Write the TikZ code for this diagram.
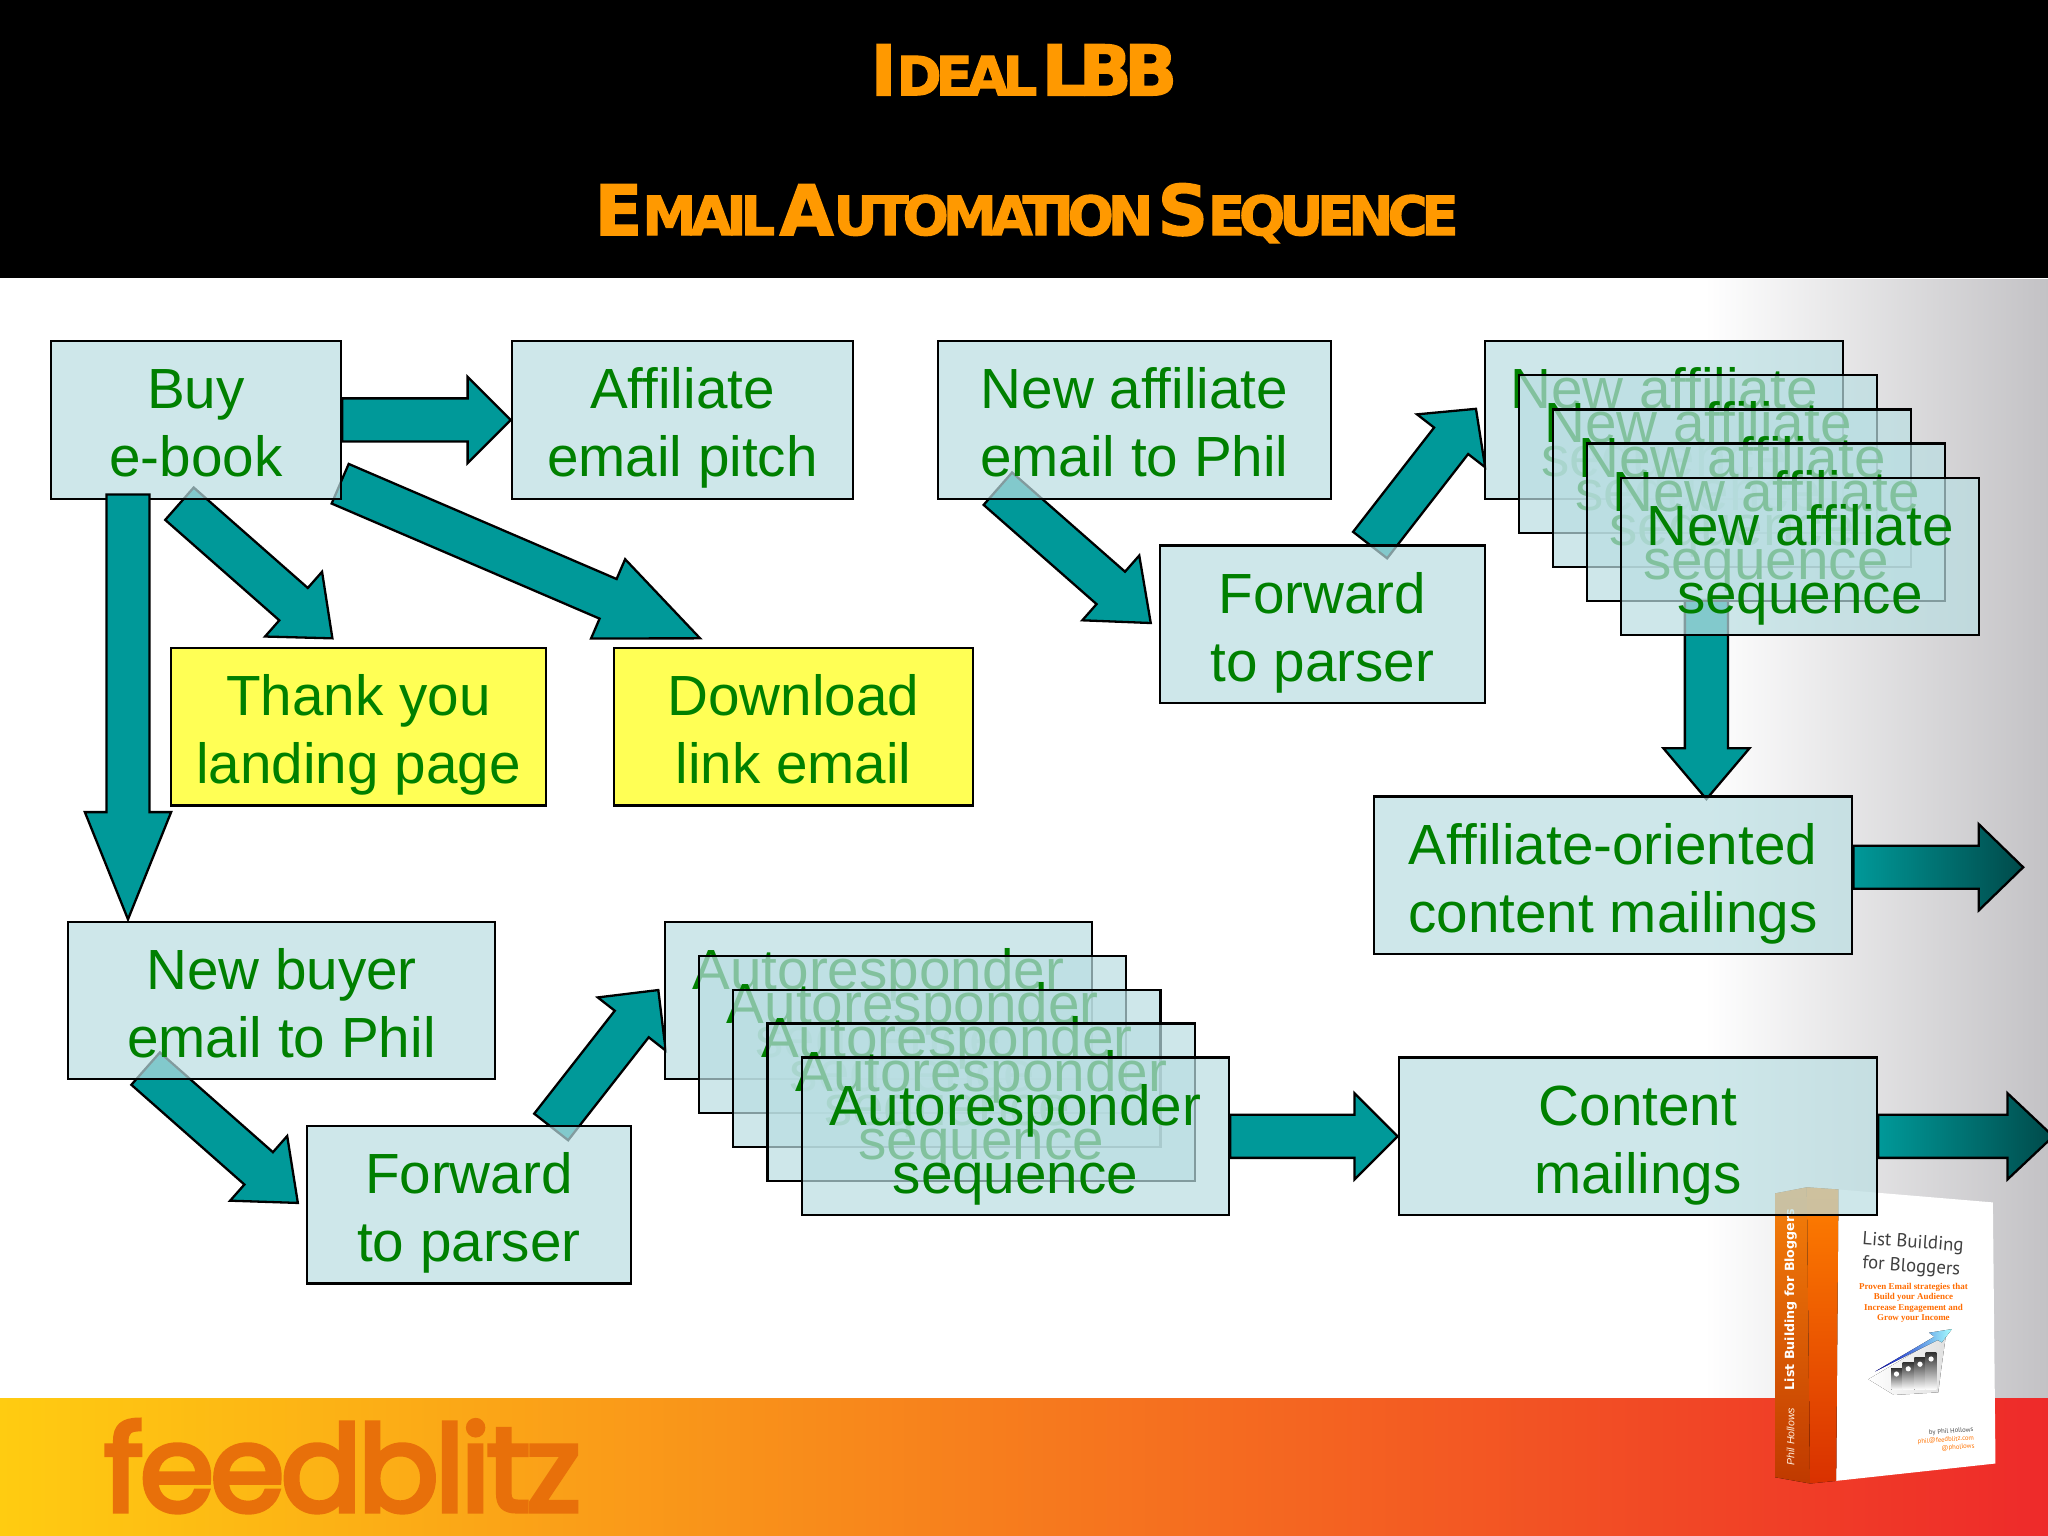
\documentclass[tikz,border=0pt]{standalone}
\usepackage{fontspec}
\setmainfont{Liberation Sans}
\newfontfamily\titlefont[LetterSpace=-11,WordSpace=.35,BoldFeatures={FakeBold=2}]{DejaVu Sans}
\newfontfamily\logofont[LetterSpace=-3,FakeBold=4]{Poppins}
\newfontfamily\bookfont{PT Sans}
\newfontfamily\slabfont{Liberation Serif}
\usetikzlibrary{calc,backgrounds}

\definecolor{arrowteal}{HTML}{009999}
\definecolor{arrowdark}{HTML}{004A4A}
\definecolor{boxfill}{HTML}{BADEE2}
\definecolor{paleyellow}{HTML}{FFFF55}
\definecolor{textgreen}{HTML}{008000}
\definecolor{titleorange}{HTML}{FF9900}
\definecolor{edgegray}{HTML}{C3C2C5}
\definecolor{footyellow}{HTML}{FFCC11}
\definecolor{footorange}{HTML}{F7931E}
\definecolor{footred}{HTML}{EE2A2A}
\definecolor{logoorange}{HTML}{E8700A}

\newcommand{\blockarrow}[4][]{
	\coordinate (arrowtail) at (#2);
	\coordinate (arrowtip) at (#3);
	\coordinate (arrowneck) at ($(arrowtip)!#4!(arrowtail)$);
	\draw[blockline,#1] ($(arrowtail)!.165cm!90:(arrowtip)$) -- ($(arrowneck)!.165cm!90:(arrowtip)$) -- ($(arrowneck)!.33cm!90:(arrowtip)$) -- (arrowtip) -- ($(arrowneck)!.33cm!-90:(arrowtip)$) -- ($(arrowneck)!.165cm!-90:(arrowtip)$) -- ($(arrowtail)!.165cm!-90:(arrowtip)$) -- cycle;
}
\newcommand{\twolines}[2]{\rule{0pt}{14.2pt}#1\\#2\rule[-4.2pt]{0pt}{4.2pt}}
\newcommand{\capbig}{\fontsize{15.2pt}{16pt}\selectfont}
\newcommand{\capsmall}{\fontsize{11.8pt}{16pt}\selectfont}

\begin{document}
\begin{tikzpicture}[
	x=.01cm,
	y=-.01cm,
	box/.style={
		draw=black,
		line width=.5pt,
		fill=boxfill,
		fill opacity=.7,
		text opacity=1,
		text=textgreen,
		font=\fontsize{12.33pt}{14.8pt}\selectfont,
		align=center,
		inner sep=0pt,
		minimum height=1.205cm},
	yellowbox/.style={box,fill=paleyellow,fill opacity=1},
	blockline/.style={draw=black,line width=.5pt,fill=arrowteal,line join=miter},
	fadeout/.style={left color=arrowteal,right color=arrowdark},
	chartbar/.style={top color=black!80,bottom color=white},
	titletext/.style={anchor=base,text=titleorange,font=\titlefont\bfseries},
	spinetext/.style={rotate=90,text=white,inner sep=0pt},
	covertext/.style={inner sep=0pt,align=center}
	]
	\useasboundingbox (0,0) rectangle (1568,1176);
	\begin{scope}[on background layer]
		\fill[white] (0,0) rectangle (1568,1176);
		\fill[left color=white,right color=edgegray] (1305,214) rectangle (1568,1071);
		\fill[black] (0,0) rectangle (1568,213);
		\fill[left color=footyellow,middle color=footorange,right color=footred] (0,1071) rectangle (1568,1176);
	\end{scope}

	\node[titletext] (titleone) at (784,73) {\capbig I\capsmall DEAL \capbig LBB};
	\node[titletext] (titletwo) at (786,180) {\capbig E\capsmall MAIL \capbig A\capsmall UTOMATION \capbig S\capsmall EQUENCE};

	\node[anchor=base west,inner sep=0pt,text=logoorange,font=\fontsize{26pt}{26pt}\logofont] (logo) at (79,1157) {feedblitz};

	\node[box,minimum width=2.22cm] (buy) at (150,321.5) {\twolines{Buy}{e-book}};
	\node[box,minimum width=2.61cm] (pitch) at (522.5,321.5) {\twolines{Affiliate}{email pitch}};
	\node[box,minimum width=3.01cm] (newaff) at (868.5,321.5) {\twolines{New affiliate}{email to Phil}};
	\node[box,minimum width=2.49cm] (fwdone) at (1012.5,478) {\twolines{Forward}{to parser}};

	\node[box,minimum width=2.74cm] (seqa) at (1274,321.5) {\twolines{New affiliate}{sequence}};
	\node[box,minimum width=2.74cm] (seqb) at (1300,347.6) {\twolines{New affiliate}{sequence}};
	\node[box,minimum width=2.74cm] (seqc) at (1326,373.7) {\twolines{New affiliate}{sequence}};
	\node[box,minimum width=2.74cm] (seqd) at (1352,399.8) {\twolines{New affiliate}{sequence}};
	\node[box,minimum width=2.74cm] (seqe) at (1378,426) {\twolines{New affiliate}{sequence}};

	\node[yellowbox,minimum width=2.87cm] (thank) at (274.5,556.5) {\twolines{Thank you}{landing page}};
	\node[yellowbox,minimum width=2.75cm] (download) at (607.5,556.5) {\twolines{Download}{link email}};
	\node[box,minimum width=3.66cm] (affmail) at (1235,670) {\twolines{Affiliate-oriented}{content mailings}};

	\node[box,minimum width=3.27cm] (newbuyer) at (215.5,766) {\twolines{New buyer}{email to Phil}};
	\node[box,minimum width=2.48cm] (fwdtwo) at (359,922.5) {\twolines{Forward}{to parser}};

	\node[box,minimum width=3.27cm] (autoa) at (672.5,766) {\twolines{Autoresponder}{sequence}};
	\node[box,minimum width=3.27cm] (autob) at (698.75,792) {\twolines{Autoresponder}{sequence}};
	\node[box,minimum width=3.27cm] (autoc) at (725,818) {\twolines{Autoresponder}{sequence}};
	\node[box,minimum width=3.27cm] (autod) at (751.25,844) {\twolines{Autoresponder}{sequence}};
	\node[box,minimum width=3.27cm] (autoe) at (777.5,870) {\twolines{Autoresponder}{sequence}};

	\node[box,minimum width=3.66cm] (content) at (1254,870) {\twolines{Content}{mailings}};

	\coordinate (affout) at (1549,664);
	\coordinate (contentout) at (1572,870);

	\begin{scope}[on background layer]
		\blockarrow{buy.east}{pitch.west}{.33cm}
		\blockarrow{$(buy.south)+(-12.6,3)$}{$(thank.north)+(-20,-6.6)$}{.396cm}
		\blockarrow{$(buy.south east)+(-1.5,-12.3)$}{$(download.north)+(-71.5,-6.6)$}{.766cm}
		\blockarrow{$(newaff.south)+(-104.5,-8.5)$}{$(fwdone.west)+(-6,-1)$}{.407cm}
		\blockarrow{$(fwdone.north)+(36.5,.5)$}{$(seqa.west)+(-6,-8.5)$}{.31cm}
		\blockarrow{$(seqe.south)+(-71.5,-28)$}{$(affmail.north)+(71.5,3)$}{.39cm}
		\blockarrow[fadeout]{$(affmail.east)+(0,-6)$}{affout}{.34cm}
		\blockarrow{$(newbuyer.south)+(-104,-9)$}{$(fwdtwo.west)+(-6,-1.5)$}{.40cm}
		\blockarrow{$(fwdtwo.north)+(63,1.5)$}{$(autoa.west)+(-4,-8)$}{.33cm}
		\blockarrow{autoe.east}{content.west}{.33cm}
		\blockarrow[fadeout]{content.east}{contentout}{.35cm}

		\fill[white] (1407.6,910.7) -- (1525.8,920.6) -- (1527.8,1120.5) -- (1405.8,1133.8) -- cycle;
		\fill[top color=orange!85!brown,bottom color=orange!60!red!75!black] (1359,913.7) -- (1383.4,909) -- (1385.9,1135.8) -- (1359,1131) -- cycle;
		\fill[top color=orange,bottom color=orange!45!red!85!black] (1383.4,909) -- (1407.6,910.7) -- (1405.8,1133.8) -- (1385.9,1135.8) -- cycle;
		\node[spinetext,font=\fontsize{2.75pt}{3pt}\selectfont\bfseries] (spinetitle) at (1371,995) {\fontspec{DejaVu Sans}List Building for Bloggers};
		\node[spinetext,font=\fontsize{2.3pt}{3pt}\selectfont\itshape,text=white!85!orange] (spineauthor) at (1371,1100) {Phil Hollows};
		\node[covertext,rotate=-4,text=black!75,font=\fontsize{4.1pt}{5.2pt}\bookfont] (covertitle) at (1464,961) {List Building\\for Bloggers};
		\node[covertext,text=orange!85!red,font=\fontsize{1.95pt}{2.2pt}\slabfont\bfseries] (coverblurb) at (1465,997.5) {Proven Email strategies that\\Build your Audience\\Increase Engagement and\\Grow your Income};
		\fill[left color=white,right color=black!12] (1430.5,1056) -- (1490,1021) -- (1486,1050) -- (1484,1066) -- (1450,1068) -- cycle;
		\fill[chartbar] (1448,1047.7) rectangle (1456.3,1064);
		\fill[chartbar] (1456.6,1043) rectangle (1465.3,1064);
		\fill[chartbar] (1465.6,1039.6) rectangle (1474,1064);
		\fill[chartbar] (1474.3,1035.5) rectangle (1482.5,1064);
		\fill[white] (1452,1052) circle (2);
		\fill[white] (1461,1048) circle (2);
		\fill[white] (1470,1044.5) circle (2);
		\fill[white] (1478.5,1040.5) circle (2);
		\fill[left color=blue!75!black,right color=cyan!35] (1435.7,1050) -- (1481,1023.4) -- (1477,1020.4) -- (1494.4,1017.6) -- (1486.7,1027.8) -- (1483.5,1026) -- cycle;
		\node[covertext,anchor=east,rotate=4,align=right,text=black!70,font=\fontsize{1.45pt}{1.8pt}\bookfont] (coverauthor) at (1512,1101) {by Phil Hollows\\\textcolor{orange!90!red}{phil@feedblitz.com}\\\textcolor{orange!90!red}{@phollows}};
	\end{scope}

	\blockarrow{$(buy.south)+(-52,-4)$}{$(newbuyer.north)+(-117.5,-1)$}{.82cm}
\end{tikzpicture}
\end{document}
